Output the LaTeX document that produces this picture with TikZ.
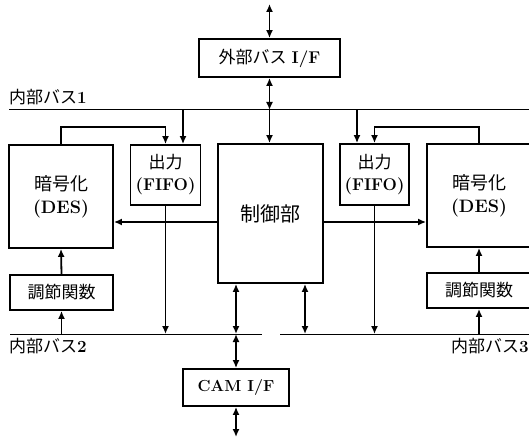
\documentclass[tikz,border=0pt]{standalone}
\usepackage{fontspec}
\usetikzlibrary{arrows.meta}
\newfontfamily\jp{Noto Sans CJK JP}
\newcommand{\J}[1]{{\jp #1}}
\newcommand{\B}[1]{{\rmfamily\bfseries #1}}
\tikzset{
  box/.style={draw, line width=1.8pt, fill=white, inner sep=0pt, align=center},
  conn/.style={line width=1.8pt},
  arr/.style={conn, -{Latex[length=8pt,width=7pt]}},
  darr/.style={conn, {Latex[length=8pt,width=7pt]}-{Latex[length=8pt,width=7pt]}},
  bus/.style={line width=1pt},
  lbl/.style={inner sep=0pt, font=\fontsize{17pt}{20pt}\selectfont}
}
\begin{document}
\begin{tikzpicture}[x=1pt,y=-1pt]
\useasboundingbox (0,0) rectangle (529,438);
% boxes
\node[box, minimum width=141pt, minimum height=38pt, font=\fontsize{17pt}{20pt}\selectfont] (ext) at (269.5,58) {\J{外部バス} \B{I/F}};
\node[box, minimum width=104pt, minimum height=103pt, font=\fontsize{18pt}{23pt}\selectfont] (desL) at (61,196.5) {\J{暗号化}\\\B{(DES)}};
\node[box, minimum width=70pt, minimum height=60pt, font=\fontsize{17pt}{22pt}\selectfont] (fifoL) at (165.5,175) {\J{出力}\\\B{(FIFO)}};
\node[box, minimum width=105pt, minimum height=139pt, font=\fontsize{20pt}{24pt}\selectfont] (ctrl) at (270.5,213.5) {\J{制御部}};
\node[box, minimum width=69pt, minimum height=61pt, font=\fontsize{17pt}{22pt}\selectfont] (fifoR) at (374.5,174.5) {\J{出力}\\\B{(FIFO)}};
\node[box, minimum width=104pt, minimum height=103pt, font=\fontsize{18pt}{23pt}\selectfont] (desR) at (479,195.5) {\J{暗号化}\\\B{(DES)}};
\node[box, minimum width=103pt, minimum height=35pt, font=\fontsize{17pt}{20pt}\selectfont] (adjL) at (61.5,292.5) {\J{調節関数}};
\node[box, minimum width=104pt, minimum height=35pt, font=\fontsize{17pt}{20pt}\selectfont] (adjR) at (479,290.5) {\J{調節関数}};
\node[box, minimum width=106pt, minimum height=37pt, font=\fontsize{16pt}{20pt}\selectfont] (cam) at (236,387.5) {\B{CAM I/F}};
% bus coordinates
\coordinate (b1L) at (9,110);
\coordinate (b1R) at (531,110);
\coordinate (b2L) at (10,334);
\coordinate (b2R) at (262,334);
\coordinate (b3L) at (280,334);
\coordinate (b3R) at (531,334);
\coordinate (topEnd) at (269.5,4);
\coordinate (botEnd) at (236,437);
\coordinate (lpL) at (165.5,127);
\coordinate (lpR) at (374.5,127);
\coordinate (hL) at (218,222);
\coordinate (hR) at (323,222);
\coordinate (vFL) at (183,110);
\coordinate (vFR) at (357,110);
\coordinate (vC2) at (236,334);
\coordinate (vC3) at (305,334);
% buses
\draw[bus] (b1L) -- (b1R);
\draw[bus] (b2L) -- (b2R);
\draw[bus] (b3L) -- (b3R);
% labels
\node[lbl, anchor=west] (l1) at (9,97) {\J{内部バス}\B{1}};
\node[lbl, anchor=west] (l2) at (9,346) {\J{内部バス}\B{2}};
\node[lbl, anchor=east] (l3) at (529,346) {\J{内部バス}\B{3}};
% connectors
\draw[darr] (topEnd) -- (ext.north);
\draw[darr] (ext.south) -- (ext.south |- b1L);
\draw[arr] (ext.south |- b1L) -- (ext.south |- ctrl.north);
\draw[arr] (vFL) -- (vFL |- fifoL.north);
\draw[arr] (vFR) -- (vFR |- fifoR.north);
\draw[arr] (desL.north) |- (lpL) -- (fifoL.north);
\draw[arr] (desR.north) |- (lpR) -- (fifoR.north);
\draw[arr] (hL) -- (hL -| desL.east);
\draw[arr] (hR) -- (hR -| desR.west);
\draw[arr] (fifoL.south) -- (fifoL.south |- b2L);
\draw[arr] (fifoR.south) -- (fifoR.south |- b3L);
\draw[arr] (adjL.south |- b2L) -- (adjL.south);
\draw[arr] (adjL.north) -- (desL.south);
\draw[arr] (adjR.south |- b3L) -- (adjR.south);
\draw[arr] (adjR.north) -- (desR.south);
\draw[darr] (vC2 |- ctrl.south) -- (vC2);
\draw[darr] (vC3 |- ctrl.south) -- (vC3);
\draw[darr] (vC2) -- (cam.north);
\draw[darr] (cam.south) -- (botEnd);
\end{tikzpicture}
\end{document}
